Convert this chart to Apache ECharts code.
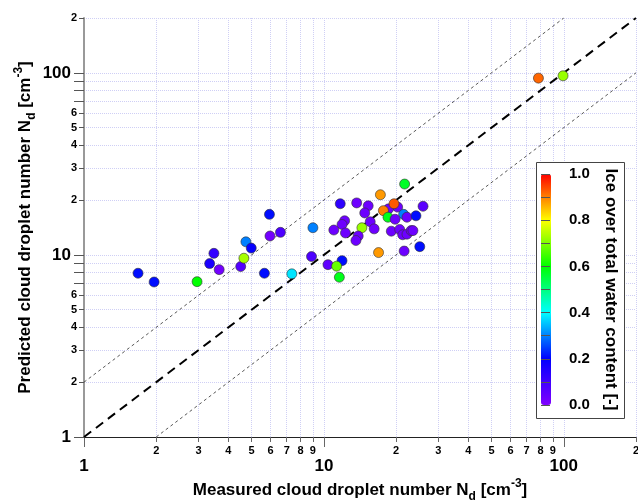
<!DOCTYPE html>
<html><head><meta charset="utf-8">
<script src="https://cdn.jsdelivr.net/npm/echarts@6/dist/echarts.min.js"></script>
<style>html,body{margin:0;padding:0;background:#fff}#chart{width:638px;height:500px}</style>
</head><body><div id="chart"></div>
<script>
// Measured / predicted cloud droplet number [cm^-3] and ice fraction [-]
const measured = [1.68,1.96,2.96,3.34,3.48,3.66,4.50,4.64,4.73,4.98,5.65,5.93,5.96,6.59,7.35,8.88,9.00,
  21.7,17.2,11.7,13.7,15.3,14.8,20.3,18.6,19.6,17.7,18.5,21.5,22.2,24.2,25.9,19.8,15.6,12.2,11.9,11.0,12.3,14.4,16.2,
  13.9,13.6,19.1,20.7,21.3,22.2,23.1,23.5,16.9,21.6,25.1,10.4,11.9,11.3,11.6,78.4,99.3];
const predicted = [7.93,7.10,7.13,8.96,10.2,8.30,8.63,9.59,11.8,10.9,7.93,16.7,12.7,13.3,7.87,9.79,14.1,
  24.5,21.4,19.1,19.3,18.6,17.0,18.3,17.9,19.1,17.5,16.1,16.7,16.1,16.4,18.5,15.7,15.2,15.4,14.7,13.7,13.2,14.1,13.9,
  12.7,12.0,13.5,13.8,12.9,13.0,13.6,13.6,10.3,10.5,11.1,8.84,9.30,8.67,7.54,93.5,96.3];
const iceFraction = [0.21,0.21,0.60,0.16,0.12,0.02,0.07,0.73,0.30,0.19,0.21,0.21,0.02,0.08,0.38,0.08,0.30,
  0.57,0.88,0.13,0.03,0.03,0.03,0.03,0.03,0.93,0.90,0.58,0.30,0.03,0.21,0.06,0.03,0.03,0.03,0.03,0.03,0.03,0.72,0.03,
  0.03,0.03,0.03,0.03,0.03,0.03,0.03,0.03,0.88,0.03,0.21,0.05,0.21,0.68,0.58,0.92,0.72];

// Reference lines (1:1, factor 2 above and below)
const oneToOneX = [1, 200], oneToOneY = [1, 200];
const upperX = [1, 100], upperY = [2, 200];
const lowerX = [2, 200], lowerY = [1, 100];

// Tick / label values
const gridTickValues = [1,2,3,4,5,6,7,8,9,10,20,30,40,50,60,70,80,90,100,200];
const xMinorLabels = [2,3,4,5,6,7,8,9,20,30,40,50,60,70,80,90,200];
const decadeLabels = [1,10,100];
const yMinorLabels = [2,3,4,5,6,20,30,40,50,60,200];
const yLongTicks = [1,7,8,9,10,70,80,90,100];
const xLongTicks = [1,10,100];
const colorStops = ['#8000ff','#0000ff','#00ffff','#00ff00','#ffff00','#ff0000'];

const L = v => Math.log10(v);
const AXMAX = L(200);
const FONT = '"Liberation Sans", Arial, sans-serif';
const minorFmt = val => String(Math.round(Math.pow(10, val))).charAt(0);
const decFmt = val => String(Math.round(Math.pow(10, val)));

const rich = {
  t: {fontSize: 17, fontWeight: 'bold', fontFamily: FONT, color: '#000', lineHeight: 25},
  sub: {fontSize: 12, fontWeight: 'bold', fontFamily: FONT, color: '#000', lineHeight: 12, verticalAlign: 'bottom'},
  sup: {fontSize: 12, fontWeight: 'bold', fontFamily: FONT, color: '#000', lineHeight: 12, verticalAlign: 'top'}
};
const gridLine = {show: true, lineStyle: {color: '#cfcff5', type: 'dotted', width: 1}};
const minorLabel = {fontFamily: FONT, fontWeight: 'bold', fontSize: 11, color: '#000'};
const bigLabel = {fontFamily: FONT, fontWeight: 'bold', fontSize: 17, color: '#000'};

const scatterData = measured.map((m, i) => [L(m), L(predicted[i]), iceFraction[i]]);
const seg = (xs, ys) => xs.map((x, i) => [L(x), L(ys[i])]);

const chart = echarts.init(document.getElementById('chart'), null, {renderer: 'canvas'});
chart.setOption({
  animation: false,
  backgroundColor: '#fff',
  grid: [
    {left: 84, right: 2, top: 18, bottom: 63, outerBoundsMode: 'none', containLabel: false},
    {left: 84, right: 2, top: 18, bottom: 63, outerBoundsMode: 'none', containLabel: false},
    {left: 541, top: 174, width: 10, height: 231, outerBoundsMode: 'none', containLabel: false}
  ],
  xAxis: [
    {gridIndex: 0, type: 'value', min: 0, max: AXMAX, position: 'bottom',
      axisLine: {show: true, lineStyle: {color: '#222', width: 1}},
      axisTick: {show: true, length: 5, customValues: gridTickValues.map(L), lineStyle: {color: '#666'}},
      axisLabel: Object.assign({customValues: xMinorLabels.map(L), formatter: minorFmt, margin: 8}, minorLabel),
      splitLine: gridLine,
      name: '{t|Measured cloud droplet number N}{sub|d}{t| [cm}{sup|-3}{t|]}',
      nameLocation: 'middle', nameGap: 41, nameTextStyle: {rich: rich}},
    {gridIndex: 1, type: 'value', min: 0, max: AXMAX, position: 'bottom',
      axisLine: {show: false},
      axisTick: {show: true, length: 10, customValues: xLongTicks.map(L), lineStyle: {color: '#666'}},
      axisLabel: Object.assign({customValues: decadeLabels.map(L), formatter: decFmt, margin: 21}, bigLabel),
      splitLine: {show: false}},
    {gridIndex: 2, type: 'value', show: false, min: 0, max: 1}
  ],
  yAxis: [
    {gridIndex: 0, type: 'value', min: 0, max: AXMAX, position: 'left',
      axisLine: {show: true, lineStyle: {color: '#999', width: 2}},
      axisTick: {show: true, length: 5, customValues: gridTickValues.map(L), lineStyle: {color: '#555'}},
      axisLabel: Object.assign({customValues: yMinorLabels.map(L), formatter: minorFmt, margin: 7}, minorLabel),
      splitLine: gridLine,
      name: '{t|Predicted cloud droplet number N}{sub|d}{t| [cm}{sup|-3}{t|]}',
      nameLocation: 'middle', nameRotate: 90, nameGap: 46, nameTextStyle: {rich: rich}},
    {gridIndex: 1, type: 'value', min: 0, max: AXMAX, position: 'left',
      axisLine: {show: false},
      axisTick: {show: true, length: 10, customValues: yLongTicks.map(L), lineStyle: {color: '#555'}},
      axisLabel: Object.assign({customValues: decadeLabels.map(L), formatter: decFmt, margin: 13}, bigLabel),
      splitLine: {show: false}},
    {gridIndex: 2, type: 'value', min: 0, max: 1, interval: 0.2, position: 'right', z: 5,
      axisLine: {show: false},
      axisTick: {show: true, length: 9, lineStyle: {color: '#555'}},
      minorTick: {show: true, splitNumber: 2, length: 9, lineStyle: {color: '#555'}},
      splitLine: {show: false},
      axisLabel: {margin: 18, formatter: v => v.toFixed(1), fontFamily: FONT, fontWeight: 'bold', fontSize: 15, color: '#000'},
      name: 'Ice over total water content [-]', nameLocation: 'middle', nameRotate: -90, nameGap: 51,
      nameTextStyle: {fontFamily: FONT, fontWeight: 'bold', fontSize: 17, color: '#000'}}
  ],
  visualMap: {
    type: 'continuous', min: 0, max: 1, dimension: 2, seriesIndex: 3,
    inRange: {color: colorStops}, calculable: false, showLabel: false,
    left: 541, top: 174, itemWidth: 10, itemHeight: 231, padding: 0, orient: 'vertical', z: 4
  },
  graphic: {elements: [
    {type: 'rect', shape: {x: 536.5, y: 162.5, width: 88, height: 256}, style: {fill: '#fff', stroke: '#444', lineWidth: 1}, z: 1}
  ]},
  series: [
    {type: 'line', xAxisIndex: 0, yAxisIndex: 0, data: seg(oneToOneX, oneToOneY), symbol: 'none', silent: true,
      lineStyle: {color: '#000', width: 2, type: [9, 6]}, z: 1},
    {type: 'line', xAxisIndex: 0, yAxisIndex: 0, data: seg(upperX, upperY), symbol: 'none', silent: true,
      lineStyle: {color: '#444', width: 0.9, type: [3, 3]}, z: 1},
    {type: 'line', xAxisIndex: 0, yAxisIndex: 0, data: seg(lowerX, lowerY), symbol: 'none', silent: true,
      lineStyle: {color: '#444', width: 0.9, type: [3, 3]}, z: 1},
    {type: 'scatter', xAxisIndex: 0, yAxisIndex: 0, data: scatterData, symbolSize: 10,
      itemStyle: {borderColor: '#333', borderWidth: 0.6, opacity: 1}, z: 3}
  ]
});
</script></body></html>
